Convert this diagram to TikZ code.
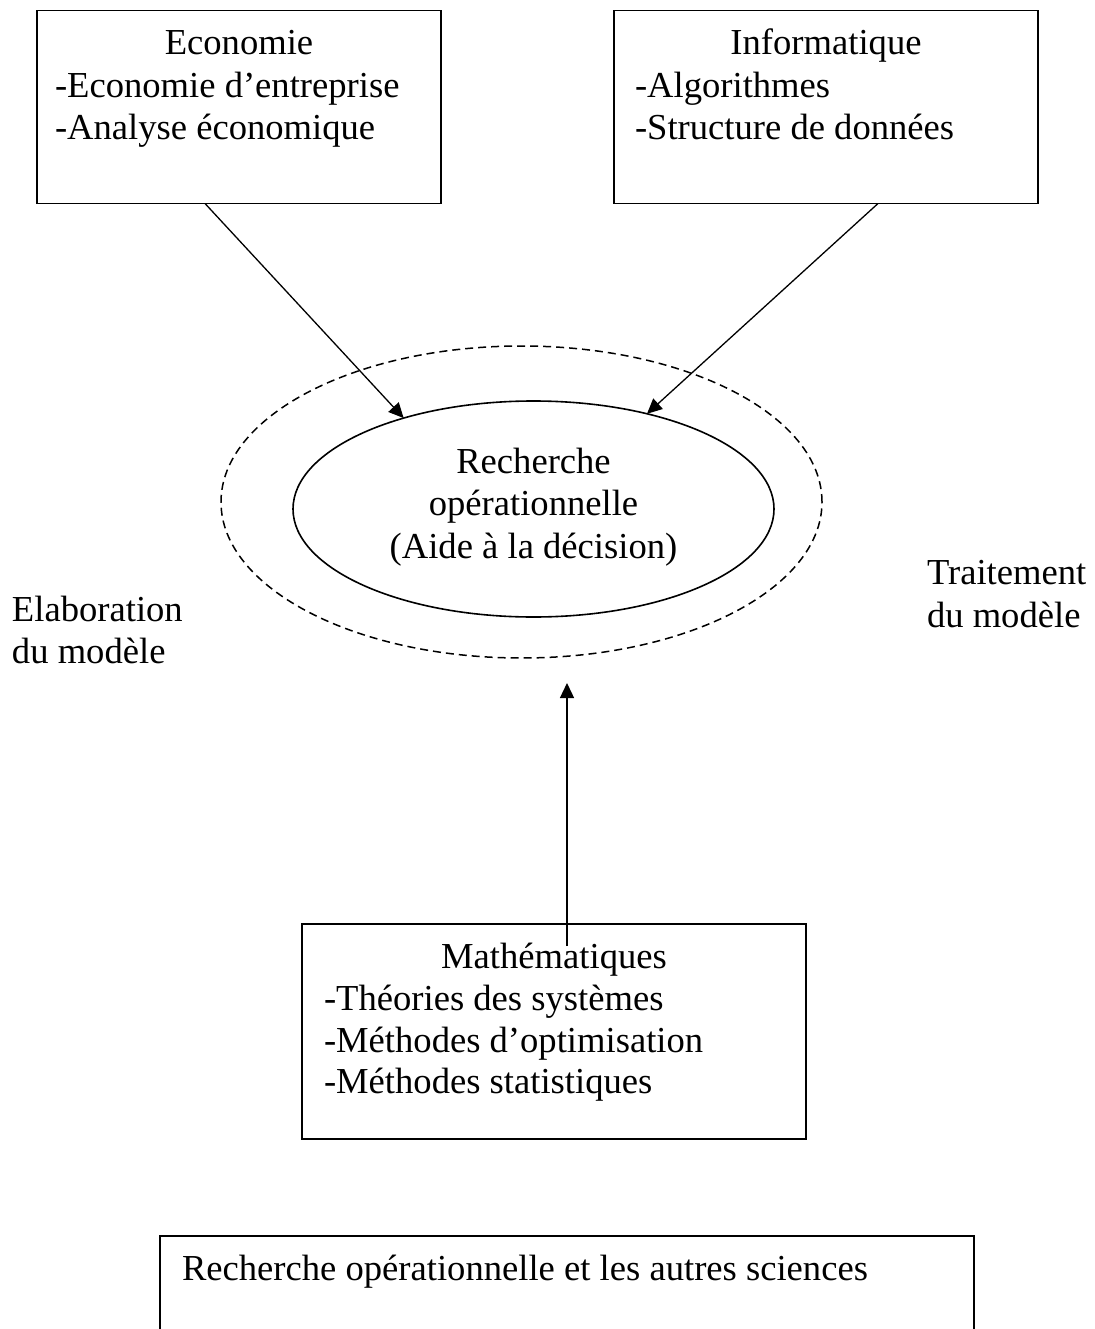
\documentclass[tikz,border=0pt]{standalone}
\usepackage{fontspec}
\setmainfont{Liberation Serif}
\usetikzlibrary{shapes.geometric,arrows.meta}
\begin{document}
\begin{tikzpicture}[x=1pt,y=-1pt,
  every node/.style={inner sep=0pt, outer sep=0pt},
  box/.style={draw, rectangle, line width=1.8pt},
  oval/.style={draw, ellipse, line width=1.6pt},
  zone/.style={draw, ellipse, line width=1.5pt, dash pattern=on 8pt off 5pt},
  txt/.style={font=\fontsize{36.6}{42}\selectfont, anchor=base},
  item/.style={txt, anchor=base west},
  link/.style={line width=1.3pt, -{Triangle[length=15pt,width=14pt]}},
]
\useasboundingbox (0,0) rectangle (1094,1329);
\fill[white] (0,0) rectangle (1094,1329);
\clip (0,0) rectangle (1094,1329);

% discipline boxes
\node[box, minimum width=404pt, minimum height=193pt] (eco) at (239,107) {};
\node[txt]  (ecot)  at (239,55)  {Economie};
\node[item] (eco1)  at (55,98)   {-Economie d’entreprise};
\node[item] (eco2)  at (55,140)  {-Analyse économique};

\node[box, minimum width=424pt, minimum height=193pt] (info) at (826,107) {};
\node[txt]  (infot) at (826,55)  {Informatique};
\node[item] (info1) at (635,98)  {-Algorithmes};
\node[item] (info2) at (635,140) {-Structure de données};

% central field and its surrounding zone
\node[zone, minimum width=601pt, minimum height=312pt] (area) at (521.5,502) {};
\node[oval, minimum width=481pt, minimum height=216pt] (ro) at (533.5,509) {};
\node[txt] (ro1) at (533.5,473) {Recherche};
\node[txt] (ro2) at (533.5,515) {opérationnelle};
\node[txt] (ro3) at (533.5,558) {(Aide à la décision)};

% side labels
\node[item] (elab1) at (12,621)  {Elaboration};
\node[item] (elab2) at (12,663)  {du modèle};
\node[item] (trait1) at (927,584) {Traitement};
\node[item] (trait2) at (927,627) {du modèle};

% mathematics box
\node[box, minimum width=504pt, minimum height=215pt] (math) at (554,1031.5) {};
\node[txt]  (matht) at (554,968)  {Mathématiques};
\node[item] (math1) at (324,1010) {-Théories des systèmes};
\node[item] (math2) at (324,1052) {-Méthodes d’optimisation};
\node[item] (math3) at (324,1093) {-Méthodes statistiques};

% caption box, open at the bottom of the page
\node[box, minimum width=814pt, minimum height=200pt] (cap) at (567,1336) {};
\node[item] (capt) at (182,1280) {Recherche opérationnelle et les autres sciences};

% connectors
\coordinate (mfoot) at (567,946);
\coordinate (mtip)  at (567,683);
\draw[link] ([xshift=168pt]eco.south west) -- (ro.145.7);
\draw[link] ([xshift=264pt]info.south west) -- (ro.40);
\draw[link] (mfoot) -- (mtip);
\end{tikzpicture}
\end{document}
